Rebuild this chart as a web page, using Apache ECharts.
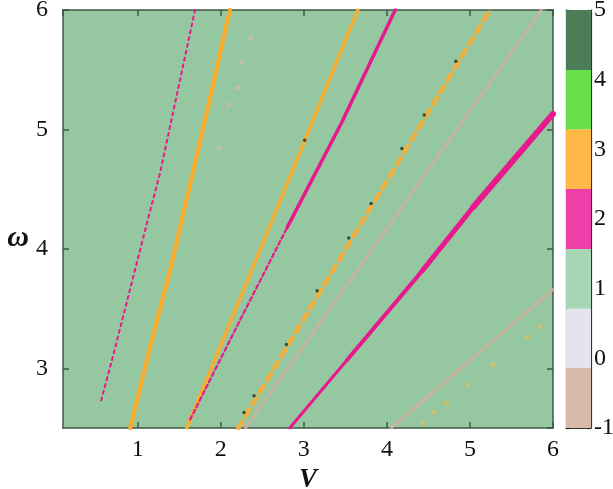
<!DOCTYPE html>
<html><head><meta charset="utf-8">
<script src="https://cdn.jsdelivr.net/npm/echarts@6/dist/echarts.min.js"></script>
<style>html,body{margin:0;padding:0;background:#fff}#c{width:613px;height:489px}</style>
</head><body><div id="c"></div>
<script>
// ---- axis ranges ----
const vRange = [0.1, 6];
const wRange = [2.5, 6];
const cbRange = [-1, 5];

// ---- colour bar bands (value -> colour) ----
const bandEdges = [-1, -0.14, 0.71, 1.57, 2.43, 3.29, 4.14, 5];
const bandColors = ['#d8baa9', '#e5e3eb', '#a7d6b4', '#ee3ea8', '#ffb846', '#66e046', '#4c7d57'];
const background = '#95c7a0'; // level 1 fills the whole plane

// ---- features of the map (V, omega) ----
// level 2 (magenta), leftmost dotted line
const m1V = [0.56, 0.69, 1.12, 1.27, 1.69];
const m1W = [2.73, 3.07, 4.24, 4.64, 6.0];
// level 3 (orange), first solid line
const o1V = [0.91, 1.15, 1.39, 1.53, 1.83, 2.11];
const o1W = [2.50, 3.18, 3.82, 4.24, 5.14, 6.0];
// level 3 (orange), second line
const o2V = [1.59, 2.62, 3.65];
const o2W = [2.50, 4.24, 6.0];
// level 2 (magenta), third line: dotted lower part, solid upper part
const m3aV = [1.63, 2.23, 2.80];
const m3aW = [2.57, 3.40, 4.18];
const m3bV = [2.80, 3.45, 4.10];
const m3bW = [4.18, 5.05, 6.0];
// level 3 (orange), dashed line
const o4V = [2.21, 3.35, 5.24];
const o4W = [2.50, 3.82, 6.0];
// level -1 (tan), faint line
const t5V = [2.30, 5.86];
const t5W = [2.50, 6.0];
// level 2 (magenta), thick line, in four pieces that widen upwards
const m6aV = [2.83, 3.52];
const m6aW = [2.50, 3.07];
const m6bV = [3.52, 4.43];
const m6bW = [3.07, 3.82];
const m6cV = [4.43, 5.04];
const m6cW = [3.82, 4.35];
const m6dV = [5.04, 6.0];
const m6dW = [4.35, 5.13];
// level -1 (tan), lower-right faint line
const t7V = [4.05, 6.0];
const t7W = [2.50, 3.66];
// level 3 isolated spots near the lower-right tan line
const o8V = [5.84, 5.69, 5.28, 4.97, 4.72, 4.56, 4.44];
const o8W = [3.35, 3.26, 3.03, 2.86, 2.71, 2.63, 2.54];
// level -1 isolated spots, upper left
const t9V = [2.36, 2.25, 2.20, 2.10, 1.98];
const t9W = [5.77, 5.56, 5.35, 5.21, 4.85];
// level 5 isolated spots (dark) along the dashed line
const d10V = [4.83, 4.45, 4.18, 3.81, 3.54, 3.16, 2.79, 2.40, 2.28, 3.01];
const d10W = [5.57, 5.12, 4.84, 4.38, 4.09, 3.65, 3.20, 2.77, 2.63, 4.91];

const pts = (xs, ys) => xs.map((x, i) => [x, ys[i]]);
const colorOf = v => {
  for (let i = 0; i < bandColors.length; i++) if (v >= bandEdges[i] && v <= bandEdges[i + 1]) return bandColors[i];
  return background;
};
const MAG = '#e8198e', ORA = '#ffaa26', TAN = '#d2b0a0', DARK = '#1e2e22';

const serif = 'Liberation Serif';
const axisCol = '#3e5a44';
const lineSeries = (xs, ys, color, width, type, opacity) => ({
  type: 'line', xAxisIndex: 0, yAxisIndex: 0, data: pts(xs, ys), showSymbol: false, smooth: false,
  lineStyle: { color, width, type: type || 'solid', opacity: opacity == null ? 1 : opacity, cap: 'round' },
  silent: true, z: 3
});

const chart = echarts.init(document.getElementById('c'));
const mainAxisCommon = {
  type: 'value', splitLine: { show: false },
  axisLine: { show: true, onZero: false, lineStyle: { color: axisCol, width: 1.5 } },
  axisTick: { show: true, inside: true, length: 6, lineStyle: { color: axisCol, width: 1.5 } }
};
chart.setOption({
  animation: false,
  grid: [
    { left: 63, top: 10, width: 490, height: 418, show: true, backgroundColor: background, borderWidth: 0, outerBoundsMode: 'none', containLabel: false },
    { left: 566, top: 10, width: 25, height: 418, show: false, outerBoundsMode: 'none', containLabel: false }
  ],
  xAxis: [
    Object.assign({}, mainAxisCommon, { gridIndex: 0, position: 'bottom', min: vRange[0], max: vRange[1], splitNumber: 5,
      name: 'V', nameLocation: 'middle', nameGap: 25,
      nameTextStyle: { fontFamily: serif, fontStyle: 'italic', fontWeight: 'bold', fontSize: 27, color: '#111' },
      axisLabel: { showMinLabel: false, margin: 10, fontFamily: serif, fontSize: 24, color: '#111' } }),
    Object.assign({}, mainAxisCommon, { gridIndex: 0, position: 'top', min: vRange[0], max: vRange[1], splitNumber: 5,
      axisLabel: { show: false } }),
    { type: 'value', gridIndex: 1, min: 0, max: 1, position: 'bottom', splitLine: { show: false },
      axisLine: { show: true, onZero: false, lineStyle: { color: '#333', width: 1.2 } }, axisTick: { show: false }, axisLabel: { show: false } },
    { type: 'value', gridIndex: 1, min: 0, max: 1, position: 'top', splitLine: { show: false },
      axisLine: { show: true, onZero: false, lineStyle: { color: '#333', width: 1.2 } }, axisTick: { show: false }, axisLabel: { show: false } }
  ],
  yAxis: [
    Object.assign({}, mainAxisCommon, { gridIndex: 0, position: 'left', min: wRange[0], max: wRange[1], splitNumber: 4,
      name: 'ω', nameLocation: 'middle', nameGap: 34, nameRotate: 0,
      nameTextStyle: { fontFamily: serif, fontStyle: 'italic', fontWeight: 'bold', fontSize: 30, color: '#111', verticalAlign: 'top', padding: [4, 0, 0, 0] },
      axisLabel: { showMinLabel: false, margin: 15, fontFamily: serif, fontSize: 24, color: '#111' } }),
    Object.assign({}, mainAxisCommon, { gridIndex: 0, position: 'right', min: wRange[0], max: wRange[1], splitNumber: 4,
      axisLabel: { show: false } }),
    { type: 'value', gridIndex: 1, position: 'right', min: cbRange[0], max: cbRange[1], interval: 1, splitLine: { show: false },
      axisLine: { show: true, onZero: false, lineStyle: { color: '#333', width: 1.2 } },
      axisTick: { show: true, inside: true, length: 4, lineStyle: { color: '#222', width: 1.2 } },
      axisLabel: { margin: 3, fontFamily: serif, fontSize: 24, color: '#111' } },
    { type: 'value', gridIndex: 1, position: 'left', min: cbRange[0], max: cbRange[1], interval: 1, splitLine: { show: false },
      axisLine: { show: true, onZero: false, lineStyle: { color: '#333', width: 1.2 } },
      axisTick: { show: true, inside: true, length: 4, lineStyle: { color: '#222', width: 1.2 } },
      axisLabel: { show: false } }
  ],
  series: [
    lineSeries(t5V, t5W, TAN, 3, 'solid', 0.85),
    lineSeries(t7V, t7W, TAN, 3, 'solid', 0.85),
    lineSeries(m1V, m1W, MAG, 2, [3, 4]),
    lineSeries(o1V, o1W, ORA, 4),
    lineSeries(o2V, o2W, '#f6ae30', 3.5),
    lineSeries(o4V, o4W, '#f0b444', 2, 'solid', 0.35),
    lineSeries(o4V, o4W, '#f2b040', 4.5, [7, 7]),
    lineSeries(m3aV, m3aW, MAG, 2.2, [4, 3]),
    lineSeries(m3bV, m3bW, MAG, 3.5),
    lineSeries(m6aV, m6aW, MAG, 3),
    lineSeries(m6bV, m6bW, MAG, 4),
    lineSeries(m6cV, m6cW, MAG, 5),
    lineSeries(m6dV, m6dW, MAG, 6),
    { type: 'scatter', xAxisIndex: 0, yAxisIndex: 0, data: pts(o8V, o8W), symbolSize: 5,
      itemStyle: { color: colorOf(3), opacity: 0.55 }, silent: true, z: 4 },
    { type: 'scatter', xAxisIndex: 0, yAxisIndex: 0, data: pts(t9V, t9W), symbolSize: 5,
      itemStyle: { color: colorOf(-1), opacity: 0.7 }, silent: true, z: 4 },
    { type: 'scatter', xAxisIndex: 0, yAxisIndex: 0, data: pts(d10V, d10W), symbolSize: 3.5,
      itemStyle: { color: DARK }, silent: true, z: 5 },
    { type: 'custom', xAxisIndex: 2, yAxisIndex: 2, silent: true,
      data: bandColors.map((c, i) => [bandEdges[i], bandEdges[i + 1], i]),
      renderItem: (params, api) => {
        const p0 = api.coord([0, api.value(1)]);
        const p1 = api.coord([1, api.value(0)]);
        return { type: 'rect', shape: { x: p0[0], y: p0[1], width: p1[0] - p0[0], height: p1[1] - p0[1] },
          style: { fill: bandColors[api.value(2)] } };
      } }
  ]
});
</script></body></html>
